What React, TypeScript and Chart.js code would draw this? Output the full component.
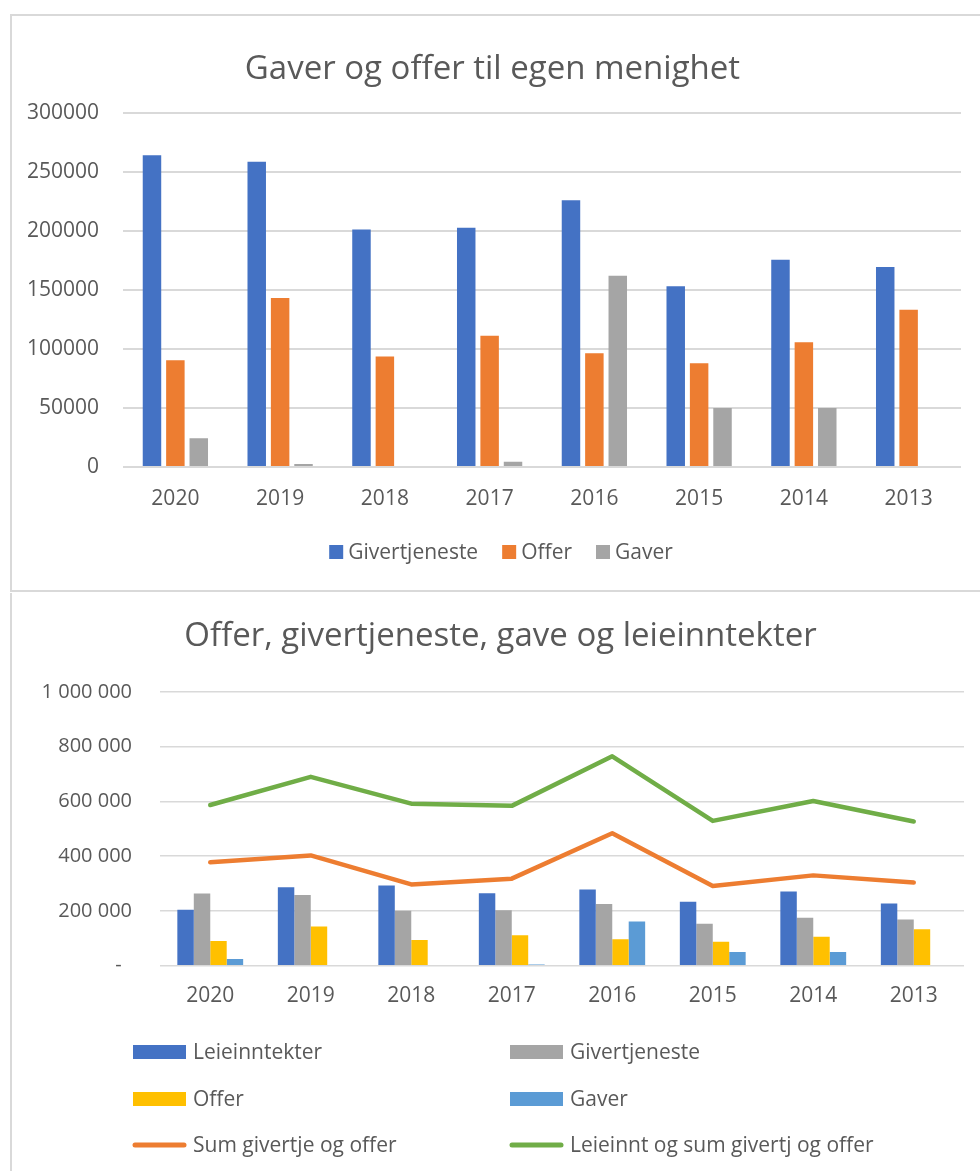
import React, { useEffect, useRef } from "react";
import { Chart, registerables } from "chart.js";

Chart.register(...registerables);

// ---------- data ----------
const years = ["2020", "2019", "2018", "2017", "2016", "2015", "2014", "2013"];
const givertjeneste = [264000, 258500, 201000, 202500, 225700, 153000, 175400, 169200];
const offer = [90400, 143000, 93500, 111000, 96300, 87900, 105700, 133100];
const gaver = [24300, 2500, 0, 4500, 161900, 50000, 50000, 0];
const leieinntekter = [204000, 287000, 293000, 265000, 278000, 234000, 271000, 227000];
const sumGivertjeOgOffer = [378000, 403000, 297000, 318000, 484000, 291000, 330000, 304000];
const leieinntOgSum = [587000, 690000, 592000, 584000, 765000, 529000, 602000, 527000];

const topTitle = "Gaver og offer til egen menighet";
const bottomTitle = "Offer, givertjeneste, gave og leieinntekter";
const topYMax = 300000;
const topYStep = 50000;
const bottomYMax = 1000000;
const bottomYStep = 200000;

// ---------- styles ----------
const FONT = "'Open Sans', 'Noto Sans', sans-serif";
const TEXT = "#595959";
const GRID = "#d9d9d9";
const BLUE = "#4472C4";
const ORANGE = "#ED7D31";
const GRAY = "#A5A5A5";
const YELLOW = "#FFC000";
const LIGHTBLUE = "#5B9BD5";
const GREEN = "#70AD47";

const fmtSpace = (v: number) =>
  v === 0 ? "-  " : String(v).replace(/\B(?=(\d{3})+(?!\d))/g, " ");

// legend in one centered row (top chart)
const rowLegendPlugin = {
  id: "rowLegend",
  afterDraw(chart: any, _args: any, opts: any) {
    const ctx = chart.ctx;
    ctx.save();
    ctx.font = `${opts.fontSize}px ${FONT}`;
    ctx.textBaseline = "middle";
    ctx.textAlign = "left";
    const items = chart.data.datasets.map((d: any) => ({
      text: d.label,
      color: d.backgroundColor,
      w: ctx.measureText(d.label).width,
    }));
    const box = opts.box;
    const total =
      items.reduce((s: number, it: any) => s + box + opts.gap + it.w, 0) +
      opts.itemGap * (items.length - 1);
    let x = chart.width / 2 + opts.shift - total / 2;
    const y = chart.height - opts.fromBottom;
    items.forEach((it: any) => {
      ctx.fillStyle = it.color;
      ctx.fillRect(x, y - box / 2, box, box);
      ctx.fillStyle = TEXT;
      ctx.fillText(it.text, x + box + opts.gap, y + 1);
      x += box + opts.gap + it.w + opts.itemGap;
    });
    ctx.restore();
  },
};

// legend in a 2-column grid (bottom chart)
const gridLegendPlugin = {
  id: "gridLegend",
  afterDraw(chart: any, _args: any, opts: any) {
    const ctx = chart.ctx;
    ctx.save();
    ctx.font = `${opts.fontSize}px ${FONT}`;
    ctx.textBaseline = "middle";
    ctx.textAlign = "left";
    chart.data.datasets.forEach((d: any, i: number) => {
      const col = i % 2;
      const row = Math.floor(i / 2);
      const x = opts.cols[col];
      const y = chart.height - opts.rowsFromBottom[row];
      if (d.type === "line") {
        ctx.strokeStyle = d.borderColor;
        ctx.lineWidth = 5;
        ctx.lineCap = "round";
        ctx.beginPath();
        ctx.moveTo(x + 2, y);
        ctx.lineTo(x + opts.markW - 2, y);
        ctx.stroke();
      } else {
        ctx.fillStyle = d.backgroundColor;
        ctx.fillRect(x, y - 7, opts.markW, 14);
      }
      ctx.fillStyle = TEXT;
      ctx.fillText(d.label, x + opts.markW + opts.gap, y + 1);
    });
    ctx.restore();
  },
};

function TopChart() {
  const ref = useRef<HTMLCanvasElement | null>(null);
  useEffect(() => {
    if (!ref.current) return;
    const chart = new Chart(ref.current, {
      type: "bar",
      data: {
        labels: years,
        datasets: [
          { label: "Givertjeneste", data: givertjeneste, backgroundColor: BLUE },
          { label: "Offer", data: offer, backgroundColor: ORANGE },
          { label: "Gaver", data: gaver, backgroundColor: GRAY },
        ],
      },
      options: {
        responsive: false,
        animation: false,
        devicePixelRatio: 1,
        layout: { padding: { left: 12, right: 19, top: 0, bottom: 59 } },
        datasets: { bar: { categoryPercentage: 0.67, barPercentage: 0.79 } } as any,
        plugins: {
          legend: { display: false },
          tooltip: { enabled: false },
          title: {
            display: true,
            text: topTitle,
            color: TEXT,
            font: { family: FONT, size: 33, weight: "normal" as any, lineHeight: 1.2 },
            padding: { top: 34, bottom: 23 },
          },
          rowLegend: { fontSize: 21, box: 14, gap: 5, itemGap: 24, fromBottom: 38, shift: 5 },
        } as any,
        scales: {
          x: {
            grid: { display: false, drawTicks: false },
            border: { display: false },
            ticks: { color: TEXT, font: { family: FONT, size: 21 }, padding: 19.4 },
          },
          y: {
            min: 0,
            max: topYMax,
            ticks: {
              stepSize: topYStep,
              color: TEXT,
              font: { family: FONT, size: 21 },
              padding: 24,
              callback: (v: any) => String(v),
            },
            grid: { color: GRID, lineWidth: 2, drawTicks: false },
            border: { display: false },
            afterFit: (s: any) => {
              s.width = 99;
            },
          },
        },
      },
      plugins: [rowLegendPlugin],
    });
    return () => chart.destroy();
  }, []);
  return <canvas ref={ref} width={968} height={574} style={{ display: "block", width: 968, height: 574 }} />;
}

function BottomChart() {
  const ref = useRef<HTMLCanvasElement | null>(null);
  useEffect(() => {
    if (!ref.current) return;
    const chart = new Chart(ref.current, {
      type: "bar",
      data: {
        labels: years,
        datasets: [
          { type: "bar", label: "Leieinntekter", data: leieinntekter, backgroundColor: BLUE, order: 2 },
          { type: "bar", label: "Givertjeneste", data: givertjeneste, backgroundColor: GRAY, order: 2 },
          { type: "bar", label: "Offer", data: offer, backgroundColor: YELLOW, order: 2 },
          { type: "bar", label: "Gaver", data: gaver, backgroundColor: LIGHTBLUE, order: 2 },
          {
            type: "line",
            label: "Sum givertje og offer",
            data: sumGivertjeOgOffer,
            borderColor: ORANGE,
            backgroundColor: ORANGE,
            borderWidth: 4.5,
            pointRadius: 0,
            tension: 0,
            borderCapStyle: "round",
            borderJoinStyle: "round",
            order: 1,
          },
          {
            type: "line",
            label: "Leieinnt og sum givertj og offer",
            data: leieinntOgSum,
            borderColor: GREEN,
            backgroundColor: GREEN,
            borderWidth: 4.5,
            pointRadius: 0,
            tension: 0,
            borderCapStyle: "round",
            borderJoinStyle: "round",
            order: 0,
          },
        ] as any,
      },
      options: {
        responsive: false,
        animation: false,
        devicePixelRatio: 1,
        layout: { padding: { left: 25, right: 16, top: 0, bottom: 144.7 } },
        datasets: { bar: { categoryPercentage: 0.655, barPercentage: 1.0 } } as any,
        plugins: {
          legend: { display: false },
          tooltip: { enabled: false },
          title: {
            display: true,
            text: bottomTitle,
            color: TEXT,
            font: { family: FONT, size: 33, weight: "normal" as any, lineHeight: 1.2 },
            padding: { top: 24.2, bottom: 35.2 },
          },
          gridLegend: {
            fontSize: 21,
            cols: [121, 498],
            rowsFromBottom: [119, 72, 26],
            markW: 53,
            gap: 7,
          },
        } as any,
        scales: {
          x: {
            grid: { display: false, drawTicks: false },
            border: { display: false },
            ticks: { color: TEXT, font: { family: FONT, size: 21 }, padding: 17.7 },
          },
          y: {
            min: 0,
            max: bottomYMax,
            ticks: {
              stepSize: bottomYStep,
              color: TEXT,
              font: { family: FONT, size: 20 },
              padding: 28,
              callback: (v: any) => fmtSpace(Number(v)),
            },
            grid: { color: GRID, lineWidth: 1.5, drawTicks: false },
            border: { display: false },
            afterFit: (s: any) => {
              s.width = 123;
            },
          },
        },
      },
      plugins: [gridLegendPlugin],
    });
    return () => chart.destroy();
  }, []);
  return <canvas ref={ref} width={968} height={578} style={{ display: "block", width: 968, height: 578 }} />;
}

export default function App() {
  return (
    <div
      style={{
        position: "absolute",
        left: 0,
        top: 0,
        width: 980,
        height: 1171,
        background: "#ffffff",
        overflow: "hidden",
      }}
    >
      <div style={{ position: "absolute", left: 10, top: 14, width: 970, height: 2, background: GRID }} />
      <div style={{ position: "absolute", left: 10, top: 14, width: 2, height: 578, background: GRID }} />
      <div style={{ position: "absolute", left: 10, top: 590, width: 970, height: 2, background: GRID }} />
      <div style={{ position: "absolute", left: 10, top: 593, width: 2, height: 578, background: GRID }} />
      <div style={{ position: "absolute", left: 12, top: 16 }}>
        <TopChart />
      </div>
      <div style={{ position: "absolute", left: 12, top: 593 }}>
        <BottomChart />
      </div>
    </div>
  );
}
